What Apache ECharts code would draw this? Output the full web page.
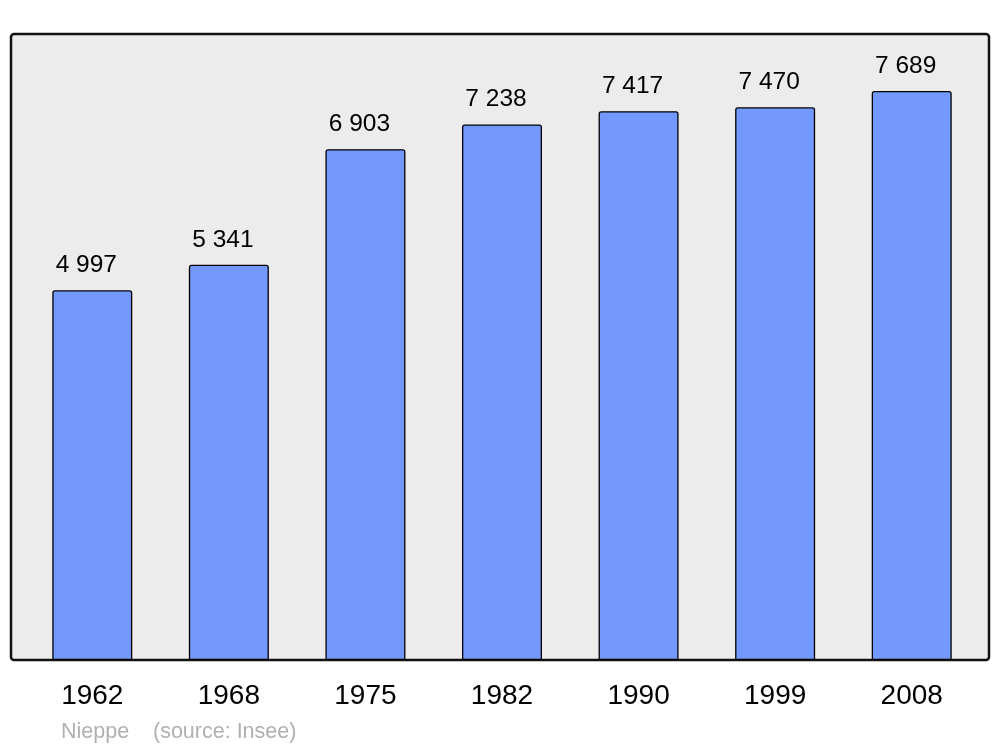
<!DOCTYPE html>
<html>
<head>
<meta charset="utf-8">
<script src="https://cdn.jsdelivr.net/npm/echarts@6/dist/echarts.min.js"></script>
<style>
html,body{margin:0;padding:0;background:#fff;}
#chart{width:1000px;height:747px;}
</style>
</head>
<body>
<div id="chart"></div>
<script>
const years = ['1962', '1968', '1975', '1982', '1990', '1999', '2008'];
const population = [4997, 5341, 6903, 7238, 7417, 7470, 7689];
const townName = 'Nieppe';
const sourceText = '(source: Insee)';

function fmt(v) {
  return String(v).replace(/\B(?=(\d{3})+(?!\d))/g, ' ');
}

const chart = echarts.init(document.getElementById('chart'), null, {renderer: 'canvas'});
chart.setOption({
  animation: false,
  backgroundColor: '#ffffff',
  graphic: [
    {
      type: 'rect',
      z: -10,
      shape: {x: 11, y: 34, width: 978, height: 626, r: 3},
      style: {fill: '#ececec', stroke: '#111111', lineWidth: 2.5}
    },
    {
      type: 'text',
      left: 61,
      top: 721,
      style: {text: townName, fill: '#b0b0b0', font: '21.5px "Liberation Sans", Arial, sans-serif'}
    },
    {
      type: 'text',
      left: 153,
      top: 721,
      style: {text: sourceText, fill: '#b0b0b0', font: '21.5px "Liberation Sans", Arial, sans-serif'}
    }
  ],
  grid: {left: 24, right: 20, top: 34, bottom: 87, containLabel: false},
  xAxis: {
    type: 'category',
    data: years,
    axisLine: {show: false},
    axisTick: {show: false},
    axisLabel: {
      color: '#000',
      fontSize: 28,
      fontFamily: '"Liberation Sans", Arial, sans-serif',
      margin: 22
    }
  },
  yAxis: {
    type: 'value',
    min: 0,
    max: 8460,
    show: false,
    splitLine: {show: false}
  },
  series: [{
    type: 'bar',
    data: population,
    barWidth: 80,
    itemStyle: {
      color: '#7399ff',
      borderColor: '#000',
      borderWidth: 1.3,
      borderRadius: [2, 2, 0, 0]
    },
    label: {
      show: true,
      position: 'top',
      distance: 12.5,
      offset: [-6, 0],
      color: '#000',
      fontSize: 24.5,
      fontFamily: '"Liberation Sans", Arial, sans-serif',
      formatter: p => fmt(p.value)
    }
  }]
});
</script>
</body>
</html>
